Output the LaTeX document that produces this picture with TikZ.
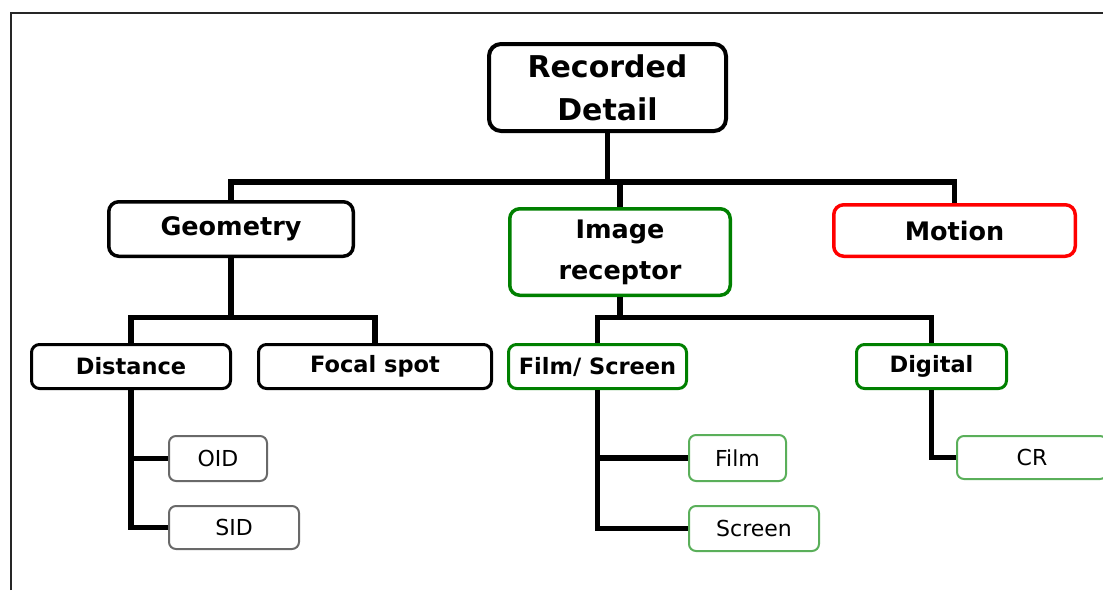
\documentclass[tikz,border=0pt]{standalone}
\usepackage{fontspec}
\setmainfont{DejaVu Sans}
\definecolor{dgreen}{RGB}{0,128,0}
\definecolor{lgreen}{RGB}{90,175,90}
\definecolor{bgray}{RGB}{105,105,105}
\definecolor{mred}{RGB}{255,0,0}
\begin{document}
\begin{tikzpicture}[x=1pt,y=-1pt,
  box/.style={draw, rectangle, rounded corners=10pt, inner sep=0pt, align=center, text=black},
  topbox/.style={box, line width=4pt, rounded corners=12pt, font=\bfseries\fontsize{30}{43}\selectfont},
  midbox/.style={box, line width=3.5pt, font=\bfseries\fontsize{25.5}{41}\selectfont},
  lowbox/.style={box, line width=3pt, rounded corners=8pt, font=\bfseries\fontsize{22.5}{27}\selectfont},
  leaf/.style={box, line width=2pt, rounded corners=7pt, font=\fontsize{22}{26}\selectfont},
  conn/.style={line width=5.5pt, black, line join=miter}]
\useasboundingbox (0,0) rectangle (1103,590);
% frame
\draw[line width=2.5pt, black!85] (11,590) -- (11,13) -- (1103,13);
% nodes
\node[topbox, minimum width=237, minimum height=87] (rd) at (607.5,87.5) {Recorded\\Detail};
\node[midbox, minimum width=244.5, minimum height=54.5] (geo) at (231,229) {Geometry};
\node[midbox, draw=dgreen, minimum width=220.5, minimum height=86.5] (ir) at (620,252) {Image\\receptor};
\node[midbox, draw=mred, minimum width=241.5, minimum height=51.5] (mot) at (954.5,230.5) {Motion};
\node[lowbox, minimum width=199, minimum height=44] (dist) at (131,366.5) {Distance};
\node[lowbox, minimum width=233, minimum height=44] (foc) at (375,366.5) {Focal spot};
\node[lowbox, draw=dgreen, minimum width=178, minimum height=44] (fs) at (597.5,366.5) {Film/ Screen};
\node[lowbox, draw=dgreen, minimum width=150, minimum height=44] (dig) at (931.5,366.5) {Digital};
\node[leaf, draw=bgray, minimum width=98, minimum height=45] (oid) at (218,458.5) {OID};
\node[leaf, draw=bgray, minimum width=130, minimum height=43] (sid) at (234,527.5) {SID};
\node[leaf, draw=lgreen, minimum width=97, minimum height=46] (film) at (737.5,458) {Film};
\node[leaf, draw=lgreen, minimum width=130, minimum height=45] (scr) at (754,528.5) {Screen};
\node[leaf, draw=lgreen, minimum width=150, minimum height=43] (cr) at (1032,457.5) {CR};
% bus coordinates
\coordinate (b1) at (0,182);
\coordinate (b2) at (0,317.5);
% connectors level 1
\draw[conn] (rd.south) -- (rd.south |- b1);
\draw[conn] (geo.north) -- (geo.north |- b1) -- (mot.north |- b1) -- (mot.north);
\draw[conn] (ir.north) -- (ir.north |- b1);
% level 2
\draw[conn] (geo.south) -- (geo.south |- b2);
\draw[conn] (dist.north) -- (dist.north |- b2) -- (foc.north |- b2) -- (foc.north);
\draw[conn] (ir.south) -- (ir.south |- b2);
\draw[conn] (fs.north) -- (fs.north |- b2) -- (dig.north |- b2) -- (dig.north);
% level 3
\draw[conn] (dist.south) |- (oid.west);
\draw[conn] (dist.south) |- (sid.west);
\draw[conn] (fs.south) |- (film.west);
\draw[conn] (fs.south) |- (scr.west);
\draw[conn] (dig.south) |- (cr.west);
\end{tikzpicture}
\end{document}
